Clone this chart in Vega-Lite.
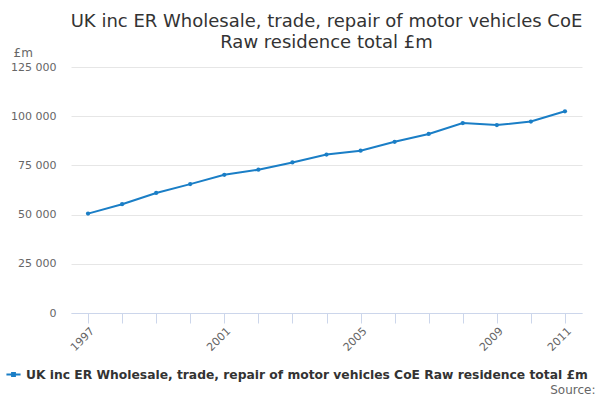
{
  "$schema": "https://vega.github.io/schema/vega-lite/v6.json",
  "width": 600,
  "height": 400,
  "autosize": {"type": "fit", "contains": "padding"},
  "padding": {"left": 10, "right": 18, "top": 13, "bottom": 5},
  "config": {
    "font": "DejaVu Sans",
    "view": {"stroke": null}
  },
  "title": {
    "text": ["UK inc ER Wholesale, trade, repair of motor vehicles CoE", "Raw residence total £m"],
    "fontSize": 18,
    "fontWeight": "normal",
    "color": "#333333",
    "lineHeight": 21,
    "offset": -6
  },
  "data": {
    "values": [
      {"year": "1997", "value": 50500, "series": "UK inc ER Wholesale, trade, repair of motor vehicles CoE Raw residence total £m"},
      {"year": "1998", "value": 55300, "series": "UK inc ER Wholesale, trade, repair of motor vehicles CoE Raw residence total £m"},
      {"year": "1999", "value": 61000, "series": "UK inc ER Wholesale, trade, repair of motor vehicles CoE Raw residence total £m"},
      {"year": "2000", "value": 65500, "series": "UK inc ER Wholesale, trade, repair of motor vehicles CoE Raw residence total £m"},
      {"year": "2001", "value": 70200, "series": "UK inc ER Wholesale, trade, repair of motor vehicles CoE Raw residence total £m"},
      {"year": "2002", "value": 72800, "series": "UK inc ER Wholesale, trade, repair of motor vehicles CoE Raw residence total £m"},
      {"year": "2003", "value": 76500, "series": "UK inc ER Wholesale, trade, repair of motor vehicles CoE Raw residence total £m"},
      {"year": "2004", "value": 80500, "series": "UK inc ER Wholesale, trade, repair of motor vehicles CoE Raw residence total £m"},
      {"year": "2005", "value": 82500, "series": "UK inc ER Wholesale, trade, repair of motor vehicles CoE Raw residence total £m"},
      {"year": "2006", "value": 87000, "series": "UK inc ER Wholesale, trade, repair of motor vehicles CoE Raw residence total £m"},
      {"year": "2007", "value": 91000, "series": "UK inc ER Wholesale, trade, repair of motor vehicles CoE Raw residence total £m"},
      {"year": "2008", "value": 96500, "series": "UK inc ER Wholesale, trade, repair of motor vehicles CoE Raw residence total £m"},
      {"year": "2009", "value": 95500, "series": "UK inc ER Wholesale, trade, repair of motor vehicles CoE Raw residence total £m"},
      {"year": "2010", "value": 97300, "series": "UK inc ER Wholesale, trade, repair of motor vehicles CoE Raw residence total £m"},
      {"year": "2011", "value": 102500, "series": "UK inc ER Wholesale, trade, repair of motor vehicles CoE Raw residence total £m"}
    ]
  },
  "mark": {"type": "line", "strokeWidth": 2, "point": {"size": 18, "filled": true}},
  "encoding": {
    "x": {
      "field": "year",
      "type": "ordinal",
      "scale": {"type": "point", "padding": 0.5},
      "axis": {
        "title": "Source:",
        "titleAnchor": "end",
        "titleAlign": "right",
        "titleBaseline": "alphabetic",
        "titleFontSize": 12,
        "titleFontWeight": "normal",
        "titleColor": "#666666",
        "titleY": 80,
        "titleX": 524,
        "labelAngle": -45,
        "labelFontSize": 11,
        "labelColor": "#666666",
        "labelExpr": "indexof(['1997','2001','2005','2009','2011'], datum.label) >= 0 ? datum.label : ''",
        "domainColor": "#ccd6eb",
        "tickColor": "#ccd6eb",
        "tickSize": 10,
        "grid": false
      }
    },
    "y": {
      "field": "value",
      "type": "quantitative",
      "scale": {"domain": [0, 125000]},
      "axis": {
        "title": "£m",
        "titleAngle": 0,
        "titleAlign": "left",
        "titleBaseline": "alphabetic",
        "titleX": -58,
        "titleY": -11,
        "titleFontSize": 12,
        "titleFontWeight": "normal",
        "titleColor": "#666666",
        "values": [0, 25000, 50000, 75000, 100000, 125000],
        "labelExpr": "replace(format(datum.value, ','), ',', ' ')",
        "labelFontSize": 11,
        "labelColor": "#666666",
        "labelPadding": 15,
        "domain": false,
        "ticks": false,
        "gridColor": "#e6e6e6"
      }
    },
    "color": {
      "field": "series",
      "type": "nominal",
      "scale": {"range": ["#1a7ec6"]},
      "legend": {
        "orient": "none",
        "legendX": -66,
        "legendY": 299,
        "title": null,
        "symbolType": "M-1,0L1,0M-0.2,-0.2L0.2,-0.2L0.2,0.2L-0.2,0.2Z",
        "symbolFillColor": "#1a7ec6",
        "symbolStrokeWidth": 2,
        "symbolSize": 200,
        "labelFontSize": 12.3,
        "labelFontWeight": "bold",
        "labelColor": "#333333",
        "labelLimit": 700
      }
    }
  }
}
